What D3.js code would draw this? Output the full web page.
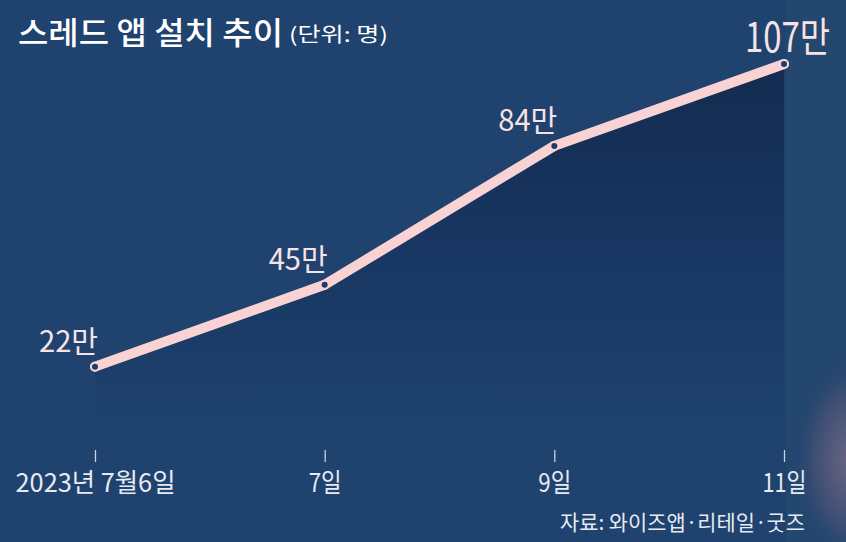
<!DOCTYPE html>
<html>
<head>
<meta charset="utf-8">
<script src="https://cdn.jsdelivr.net/npm/d3@7"></script>
<style>
  html, body { margin: 0; padding: 0; background: #1f426e; }
  svg { display: block; }
  text { font-family: "Noto Sans CJK KR", "Noto Sans", sans-serif; }
</style>
</head>
<body>
<script>
// data
const dates = ["2023년 7월6일", "7일", "9일", "11일"];
const installs = [22, 45, 84, 107];   // 만 명
const valueLabels = ["22만", "45만", "84만", "107만"];

const width = 846, height = 542;
const bg = "#1f426e";

const svg = d3.select("body").append("svg")
    .attr("width", width)
    .attr("height", height);

const defs = svg.append("defs");

// area gradient, dark under the line fading into the background
const grad = defs.append("linearGradient")
    .attr("id", "areaGrad")
    .attr("x1", 0).attr("y1", 0).attr("x2", 0).attr("y2", 1);
grad.append("stop").attr("offset", "0%").attr("stop-color", "#132b50");
grad.append("stop").attr("offset", "55%").attr("stop-color", "#193864");
grad.append("stop").attr("offset", "100%").attr("stop-color", bg);

const blob = defs.append("radialGradient").attr("id", "blob");
blob.append("stop").attr("offset", "0%").attr("stop-color", "#6a6784");
blob.append("stop").attr("offset", "60%").attr("stop-color", "#3d4e74");
blob.append("stop").attr("offset", "100%").attr("stop-color", bg).attr("stop-opacity", 0);

svg.append("rect").attr("width", width).attr("height", height).attr("fill", bg);

// blurry photo background on the right edge
svg.append("rect")
    .attr("x", 786).attr("y", 0).attr("width", 60).attr("height", height)
    .attr("fill", "#23476f");
svg.append("ellipse")
    .attr("cx", 850).attr("cy", 460).attr("rx", 60).attr("ry", 110)
    .attr("fill", "url(#blob)");

// scales
const x = d3.scalePoint()
    .domain(dates)
    .range([95, 784]);

const y = d3.scaleLinear()
    .domain([0, 107])
    .range([445, 64]);

const pts = dates.map((d, i) => ({ date: d, v: installs[i], label: valueLabels[i] }));

// area
const area = d3.area()
    .x(d => x(d.date))
    .y0(442)
    .y1(d => y(d.v));

svg.append("path")
    .datum(pts)
    .attr("d", area)
    .attr("fill", "url(#areaGrad)");

// x axis
const xAxis = svg.append("g")
    .attr("transform", "translate(0,450)")
    .call(d3.axisBottom(x).tickSize(12).tickPadding(10));
xAxis.select(".domain").remove();
xAxis.selectAll(".tick line")
    .attr("stroke", "#c9d3e2")
    .attr("stroke-width", 1.3);
xAxis.selectAll(".tick text")
    .attr("fill", "#e6ebf3")
    .attr("font-size", 26)
    .attr("dy", "0.78em")
    .attr("lengthAdjust", "spacingAndGlyphs")
    .attr("textLength", d => d === dates[0] ? 160 : (d === "11일" ? 44 : 33));

// line
const line = d3.line()
    .x(d => x(d.date))
    .y(d => y(d.v));

svg.append("path")
    .datum(pts)
    .attr("d", line)
    .attr("fill", "none")
    .attr("stroke", "#f9d2d3")
    .attr("stroke-width", 10)
    .attr("stroke-linecap", "round")
    .attr("stroke-linejoin", "round");

svg.selectAll(".dot")
    .data(pts)
    .enter()
    .append("circle")
    .attr("class", "dot")
    .attr("cx", d => x(d.date))
    .attr("cy", d => y(d.v))
    .attr("r", 4)
    .attr("fill", "#1c3b66")
    .attr("stroke", "#f9d2d3")
    .attr("stroke-width", 2);

// value labels, squeezed horizontally like the condensed original face
svg.selectAll(".vlabel")
    .data(pts)
    .enter()
    .append("text")
    .attr("class", "vlabel")
    .attr("text-anchor", "end")
    .attr("fill", "#f6e3e4")
    .attr("font-size", (d, i) => i === 3 ? 41 : 30)
    .text(d => d.label)
    .each(function(d, i) {
        const want = i === 3 ? 85 : 59;
        const k = want / this.getComputedTextLength();
        const tx = i === 3 ? x(d.date) + 46 : x(d.date) + 3;
        const ty = y(d.v) - (i === 3 ? 12 : 15);
        d3.select(this).attr("transform", `translate(${tx},${ty}) scale(${k},1)`);
    });

// title
svg.append("text")
    .attr("x", 18)
    .attr("y", 44)
    .attr("fill", "#ffffff")
    .attr("font-size", 31)
    .attr("font-weight", 500)
    .attr("lengthAdjust", "spacingAndGlyphs")
    .attr("textLength", 265)
    .text("스레드 앱 설치 추이");

svg.append("text")
    .attr("x", 289)
    .attr("y", 42)
    .attr("fill", "#ffffff")
    .attr("font-size", 20)
    .attr("lengthAdjust", "spacingAndGlyphs")
    .attr("textLength", 99)
    .text("(단위: 명)");

// source
svg.append("text")
    .attr("x", 805)
    .attr("y", 530)
    .attr("text-anchor", "end")
    .attr("fill", "#e6ebf3")
    .attr("font-size", 21)
    .attr("lengthAdjust", "spacingAndGlyphs")
    .attr("textLength", 245)
    .text("자료: 와이즈앱·리테일·굿즈");
</script>
</body>
</html>
